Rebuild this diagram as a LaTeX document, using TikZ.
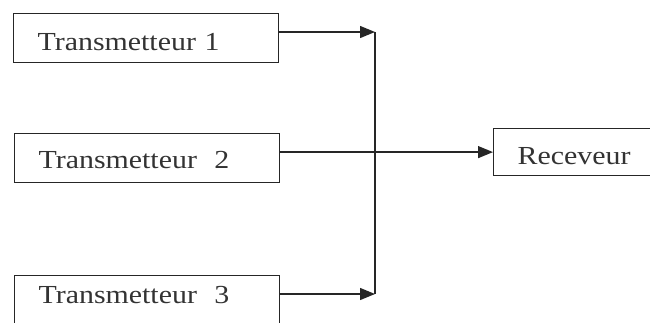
\documentclass[tikz,border=0pt]{standalone}
\usepackage{fontspec}
\setmainfont{Liberation Serif}
\newfontfamily\scanfont[FakeStretch=1.15]{Liberation Serif}
\usetikzlibrary{arrows.meta}
\begin{document}
\begin{tikzpicture}[x=1pt,y=-1pt,
  box/.style={draw=black!85, line width=1.2pt, minimum height=49pt, inner ysep=0pt,
    text depth=0pt, font=\scanfont\fontsize{26}{26}\selectfont, text=black!80, anchor=north west},
  tbox/.style={box, text width=217pt, inner xsep=24pt, align=left},
  conn/.style={draw=black!85, line width=1.3pt},
  arr/.style={conn, -{Triangle[length=15pt,width=12pt]}}]
\useasboundingbox (0,0) rectangle (650,322);
\node[tbox, text height=25pt] (t1) at (13,13) {Transmetteur 1};
\node[tbox, text height=21pt] (t2) at (14,133) {Transmetteur~~2};
\node[tbox, minimum height=52pt, text height=4pt] (t3) at (14,275) {Transmetteur~~3};
\node[box, minimum width=170pt, minimum height=47pt, text height=25pt, text width=146pt, inner xsep=24pt, align=left] (r) at (493,128) {Receveur};
\coordinate (j1) at (375,32);
\coordinate (j3) at (375,294);
\draw[arr] (t1.east |- j1) -- (j1);
\draw[arr] (t3.east |- j3) -- (j3);
\draw[conn] (j1) -- (j3);
\draw[arr] (t2.east |- r.west) -- (r.west);
\end{tikzpicture}
\end{document}
